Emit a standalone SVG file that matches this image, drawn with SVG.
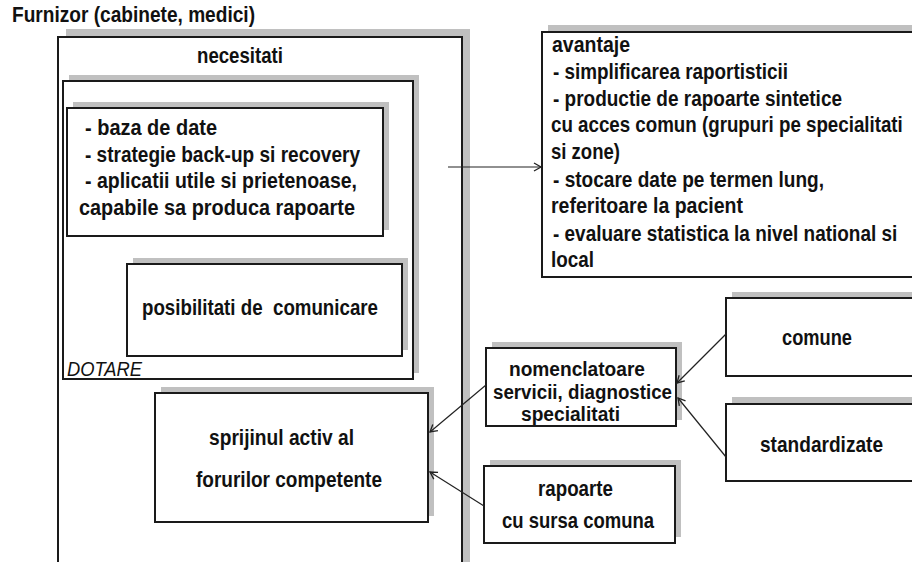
<svg xmlns="http://www.w3.org/2000/svg" width="912" height="562" viewBox="0 0 912 562">
<defs>
<style>
.sh{fill:#c0c0c0;stroke:none}
.bx{fill:#fff;stroke:#1a1a1a;stroke-width:2}
.t{font-family:"Liberation Sans",Arial,sans-serif;font-weight:bold;font-size:22px;fill:#111}
.s{font-size:20px}
.it{font-family:"Liberation Sans",Arial,sans-serif;font-style:italic;font-size:21px;fill:#111}
.cn{fill:none;stroke:#222;stroke-width:1.2}
</style>
<marker id="ah" markerUnits="userSpaceOnUse" markerWidth="12" markerHeight="12" refX="8" refY="5" orient="auto">
<path d="M1,1 L8,5 L1,9" fill="none" stroke="#222" stroke-width="1.3"/>
</marker>
</defs>
<rect width="912" height="562" fill="#fff"/>
<text class="t" x="12" y="22" textLength="243" lengthAdjust="spacingAndGlyphs">Furnizor (cabinete, medici)</text>

<g id="necesitati">
<rect class="sh" x="66" y="29" width="404" height="560"/>
<rect class="bx" x="58" y="37" width="404" height="560"/>
<text class="t" x="197" y="63" textLength="86" lengthAdjust="spacingAndGlyphs">necesitati</text>
</g>

<g id="dotare">
<rect class="sh" x="69" y="75" width="350" height="298"/>
<rect class="bx" x="63" y="81" width="350" height="298"/>
<text class="it" x="67" y="376" textLength="75" lengthAdjust="spacingAndGlyphs">DOTARE</text>
</g>

<g id="baza">
<rect class="sh" x="73" y="102" width="316" height="128"/>
<rect class="bx" x="67" y="108" width="316" height="128"/>
<text class="t" x="85" y="135" textLength="132" lengthAdjust="spacingAndGlyphs">- baza de date</text>
<text class="t" x="85" y="162" textLength="275" lengthAdjust="spacingAndGlyphs">- strategie back-up si recovery</text>
<text class="t" x="85" y="188" textLength="272" lengthAdjust="spacingAndGlyphs">- aplicatii utile si prietenoase,</text>
<text class="t" x="79" y="215" textLength="276" lengthAdjust="spacingAndGlyphs">capabile sa produca rapoarte</text>
</g>

<g id="posibilitati">
<rect class="sh" x="133" y="258" width="275" height="92"/>
<rect class="bx" x="127" y="264" width="275" height="92"/>
<text class="t" x="142" y="315" textLength="236" lengthAdjust="spacingAndGlyphs" xml:space="preserve">posibilitati de  comunicare</text>
</g>

<g id="sprijinul">
<rect class="sh" x="161" y="387" width="273" height="129"/>
<rect class="bx" x="155" y="393" width="273" height="129"/>
<text class="t" x="209" y="445" textLength="145" lengthAdjust="spacingAndGlyphs">sprijinul activ al</text>
<text class="t" x="196" y="487" textLength="186" lengthAdjust="spacingAndGlyphs">forurilor competente</text>
</g>

<g id="avantaje">
<rect class="sh" x="548" y="25" width="380" height="245"/>
<rect class="bx" x="542" y="32" width="380" height="245"/>
<text class="t" x="552" y="52" textLength="78" lengthAdjust="spacingAndGlyphs">avantaje</text>
<text class="t" x="553" y="79" textLength="235" lengthAdjust="spacingAndGlyphs">- simplificarea raportisticii</text>
<text class="t" x="553" y="106" textLength="289" lengthAdjust="spacingAndGlyphs">- productie de rapoarte sintetice</text>
<text class="t" transform="translate(551,132) scale(0.852,1)" x="0" y="0">cu acces comun (grupuri pe specialitati</text>
<text class="t" x="551" y="159" textLength="69" lengthAdjust="spacingAndGlyphs">si zone)</text>
<text class="t" x="553" y="187" textLength="271" lengthAdjust="spacingAndGlyphs">- stocare date pe termen lung,</text>
<text class="t" x="551" y="213" textLength="192" lengthAdjust="spacingAndGlyphs">referitoare la pacient</text>
<text class="t" transform="translate(553,241) scale(0.862,1)" x="0" y="0">- evaluare statistica la nivel national si</text>
<text class="t" x="551" y="267" textLength="43" lengthAdjust="spacingAndGlyphs">local</text>
</g>

<g id="comune">
<rect class="sh" x="732" y="292" width="200" height="78"/>
<rect class="bx" x="726" y="298" width="200" height="78"/>
<text class="t" x="782" y="345" textLength="70" lengthAdjust="spacingAndGlyphs">comune</text>
</g>

<g id="standardizate">
<rect class="sh" x="732" y="397" width="200" height="78"/>
<rect class="bx" x="726" y="404" width="200" height="77"/>
<text class="t" x="760" y="452" textLength="123" lengthAdjust="spacingAndGlyphs">standardizate</text>
</g>

<g id="nomenclatoare">
<rect class="sh" x="492" y="342" width="190" height="78"/>
<rect class="bx" x="486" y="348" width="190" height="78"/>
<text class="t s" x="509" y="376" textLength="136" lengthAdjust="spacingAndGlyphs">nomenclatoare</text>
<text class="t s" x="493" y="399" textLength="179" lengthAdjust="spacingAndGlyphs">servicii, diagnostice</text>
<text class="t s" x="521" y="421" textLength="99" lengthAdjust="spacingAndGlyphs">specialitati</text>
</g>

<g id="rapoarte">
<rect class="sh" x="490" y="460" width="191" height="77"/>
<rect class="bx" x="484" y="466" width="191" height="77"/>
<text class="t" x="538" y="496" textLength="75" lengthAdjust="spacingAndGlyphs">rapoarte</text>
<text class="t" x="502" y="528" textLength="152" lengthAdjust="spacingAndGlyphs">cu sursa comuna</text>
</g>

<g id="connectors">
<line class="cn" x1="448" y1="167" x2="541" y2="167" marker-end="url(#ah)"/>
<line class="cn" x1="726" y1="334" x2="677" y2="383" marker-end="url(#ah)"/>
<line class="cn" x1="726" y1="457" x2="678" y2="398" marker-end="url(#ah)"/>
<line class="cn" x1="486" y1="385" x2="430" y2="432" marker-end="url(#ah)"/>
<line class="cn" x1="484" y1="506" x2="430" y2="472" marker-end="url(#ah)"/>
</g>
</svg>
